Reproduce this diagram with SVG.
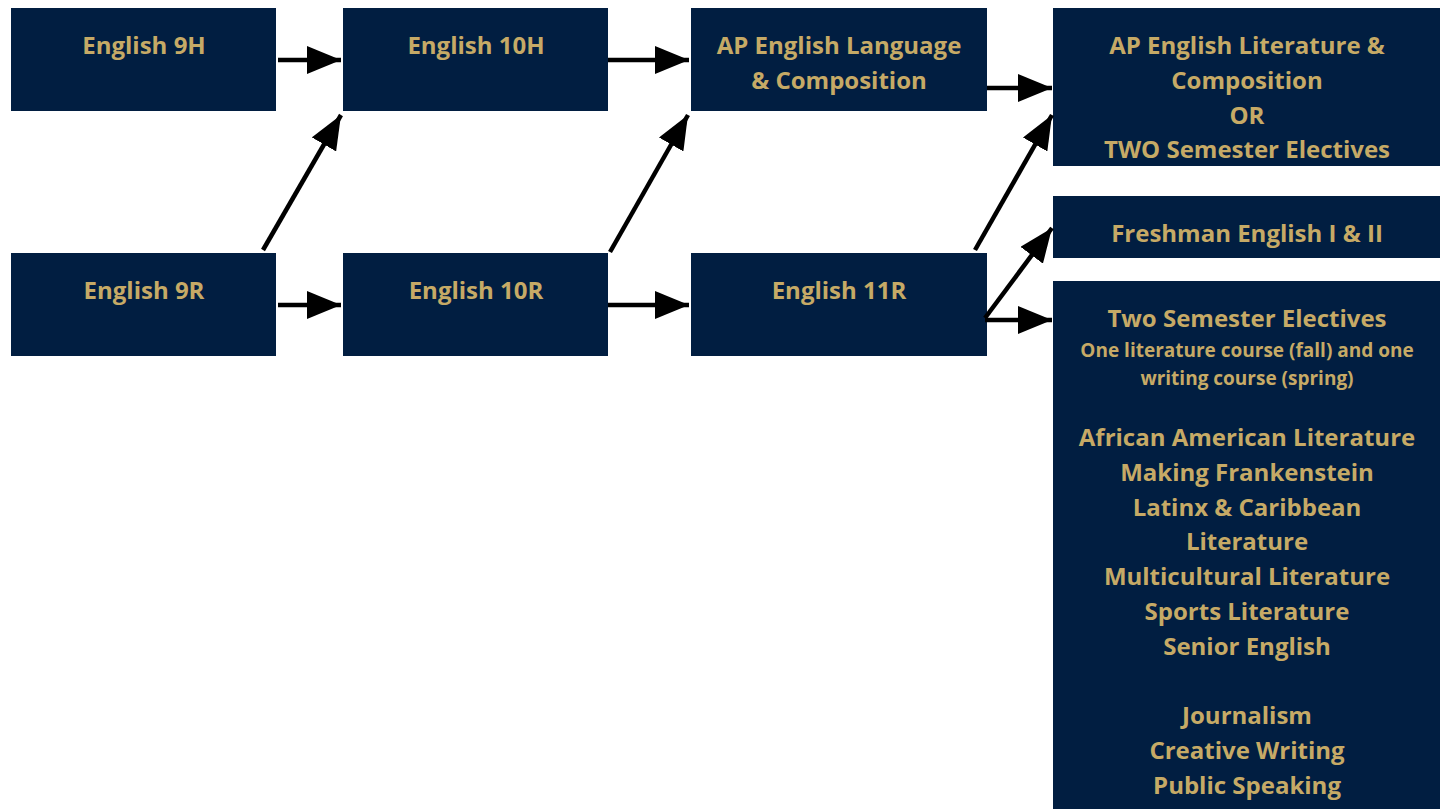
<svg xmlns="http://www.w3.org/2000/svg" width="1440" height="809" viewBox="0 0 1440 809">
<style>
.box{fill:#011E41}
.t{font-family:"Open Sans","Noto Sans",sans-serif;font-weight:700;font-size:24px;fill:#C6AA66;text-anchor:middle}
.s{font-size:19px}
.c{stroke:#000;stroke-width:4.5;fill:none;marker-end:url(#ah)}
</style>
<defs>
<marker id="ah" markerUnits="userSpaceOnUse" markerWidth="36" markerHeight="28" refX="34" refY="14" orient="auto">
<path d="M0,0 L34,14 L0,28 Z" fill="#000"/>
</marker>
</defs>
<rect width="1440" height="809" fill="#fff"/>
<g id="e9h"><rect class="box" x="11" y="8" width="265" height="103"/><text class="t" x="144" y="54">English 9H</text></g>
<g id="e10h"><rect class="box" x="343" y="8" width="265" height="103"/><text class="t" x="476" y="54">English 10H</text></g>
<g id="aplang"><rect class="box" x="691" y="8" width="296" height="103"/><text class="t" x="839" y="54">AP English Language</text><text class="t" x="839" y="89">&amp; Composition</text></g>
<g id="aplit"><rect class="box" x="1053" y="8" width="387" height="158"/><text class="t" x="1247" y="54">AP English Literature &amp;</text><text class="t" x="1247" y="89">Composition</text><text class="t" x="1247" y="124">OR</text><text class="t" x="1247" y="158">TWO Semester Electives</text></g>
<g id="fresh"><rect class="box" x="1053" y="196" width="387" height="62"/><text class="t" x="1247" y="242">Freshman English I &amp; II</text></g>
<g id="e9r"><rect class="box" x="11" y="253" width="265" height="103"/><text class="t" x="144" y="299">English 9R</text></g>
<g id="e10r"><rect class="box" x="343" y="253" width="265" height="103"/><text class="t" x="476" y="299">English 10R</text></g>
<g id="e11r"><rect class="box" x="691" y="253" width="296" height="103"/><text class="t" x="839" y="299">English 11R</text></g>
<g id="twosem"><rect class="box" x="1053" y="281" width="387" height="528"/>
<text class="t" x="1247" y="327">Two Semester Electives</text>
<text class="t s" x="1247" y="357">One literature course (fall) and one</text>
<text class="t s" x="1247" y="385">writing course (spring)</text>
<text class="t" x="1247" y="446">African American Literature</text>
<text class="t" x="1247" y="481">Making Frankenstein</text>
<text class="t" x="1247" y="516">Latinx &amp; Caribbean</text>
<text class="t" x="1247" y="550">Literature</text>
<text class="t" x="1247" y="585">Multicultural Literature</text>
<text class="t" x="1247" y="620">Sports Literature</text>
<text class="t" x="1247" y="655">Senior English</text>
<text class="t" x="1247" y="724">Journalism</text>
<text class="t" x="1247" y="759">Creative Writing</text>
<text class="t" x="1247" y="794">Public Speaking</text>
</g>
<g id="connectors">
<line class="c" x1="278" y1="60" x2="341" y2="60"/>
<line class="c" x1="263" y1="250" x2="341" y2="115"/>
<line class="c" x1="278" y1="305" x2="341" y2="305"/>
<line class="c" x1="608" y1="60" x2="689" y2="60"/>
<line class="c" x1="610" y1="252" x2="688" y2="115"/>
<line class="c" x1="608" y1="305" x2="689" y2="305"/>
<line class="c" x1="987" y1="88" x2="1052" y2="88"/>
<line class="c" x1="975" y1="250" x2="1052" y2="115"/>
<line class="c" x1="985" y1="318" x2="1052" y2="228"/>
<line class="c" x1="985" y1="320" x2="1052" y2="320"/>
</g>
</svg>
